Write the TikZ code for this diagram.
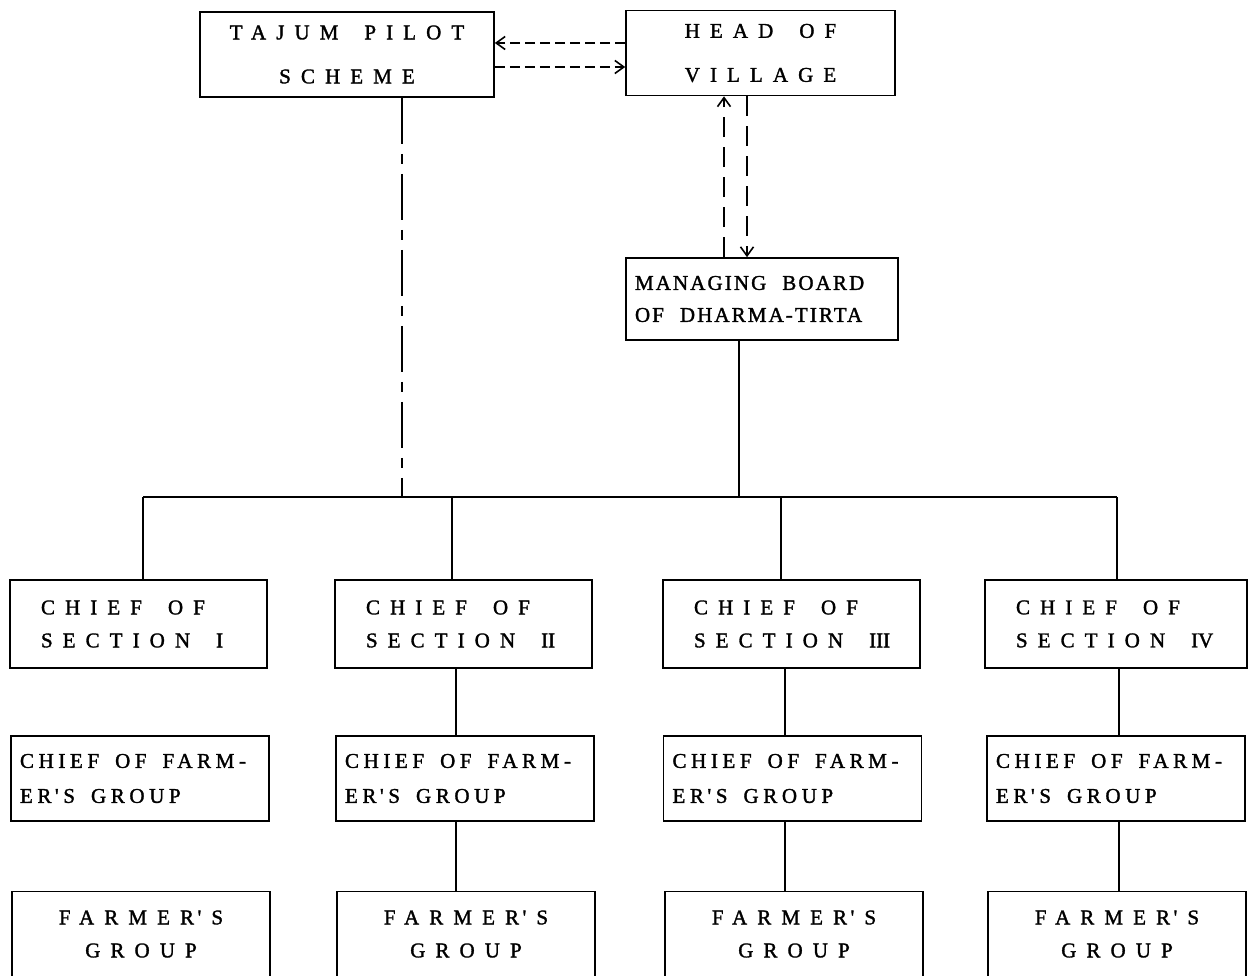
\documentclass[tikz,border=0pt]{standalone}
\usepackage{fontspec}
\setmainfont{Liberation Serif}
\newfontfamily\widefont[LetterSpace=48,FakeBold=1.5]{Liberation Serif}
\newfontfamily\tightfont[LetterSpace=22,FakeBold=1.5]{Liberation Serif}
\newfontfamily\boardfont[LetterSpace=10,FakeBold=1.5]{Liberation Serif}
\newfontfamily\plainfont[FakeBold=1.5]{Liberation Serif}
\usetikzlibrary{arrows.meta}
\newcommand\wg{\hspace{26pt}}
\newcommand\tg{\hspace{16pt}}
\begin{document}
\begin{tikzpicture}[x=1pt,y=-1pt,
  box/.style={draw, line width=1.6pt, minimum height=85pt, inner sep=0pt,
    font=\fontsize{21}{40}\selectfont},
  cbox/.style={box, align=center},
  lbox/.style={box, align=left, inner xsep=9pt, text width=#1},
  sbox/.style={box, align=left, inner xsep=31pt, text width=#1},
  link/.style={line width=1.6pt},
  dashlink/.style={line width=1.6pt, dash pattern=on 10pt off 5pt},
  vdashlink/.style={line width=1.6pt, dash pattern=on 20pt off 10pt},
  chainlink/.style={line width=1.7pt, dash pattern=on 46pt off 10pt on 10pt off 10pt},
  tip/.style={-{Straight Barb[length=9pt,width=13pt,line width=1.6pt]}}
]
\fill[white] (0,0) rectangle (1249,976);
\useasboundingbox (0,0) rectangle (1249,976);

% top level
\node[cbox, minimum width=294pt, font=\fontsize{21}{44}\selectfont\widefont] (tajum) at (347,54.5)
  {TAJUM\wg PILOT\\SCHEME};
\node[cbox, minimum width=269pt, font=\fontsize{21}{44}\selectfont\widefont] (head) at (760.5,53)
  {HEAD\wg OF\\VILLAGE};
\node[lbox=254pt, minimum width=272pt, minimum height=82pt, font=\fontsize{21}{32}\selectfont\boardfont] (board) at (762,299)
  {\mbox{MANAGING\tg BOARD}\\\mbox{OF\tg DHARMA-TIRTA}};

% sections
\foreach \n/\cx/\w/\num in {s1/138.5/257/I, s2/463.5/257/II, s3/791.5/257/III, s4/1116/262/IV}
  \node[sbox=\w pt - 62pt, minimum width=\w pt, minimum height=88pt,
        font=\fontsize{21}{33}\selectfont\widefont] (\n) at (\cx,624)
    {\mbox{CHIEF\wg OF}\\\mbox{SECTION\wg {\plainfont\num}}};

% chiefs of farmer's groups
\foreach \n/\cx in {f1/140, f2/465, f3/792.5, f4/1116}
  \node[lbox=240pt, minimum width=258pt, font=\fontsize{21}{35}\selectfont\tightfont] (\n) at (\cx,778.5)
    {\mbox{CHIEF\tg OF\tg FARM-}\\\mbox{ER\,'S\tg GROUP}};

% farmer's groups
\foreach \n/\cx in {g1/141, g2/466, g3/794, g4/1117}
  \node[cbox, minimum width=258pt, font=\fontsize{21}{33}\selectfont\widefont] (\n) at (\cx,934)
    {FARMER\,'S\\GROUP};

% bus line and drop points
\coordinate (b1) at (143,497);
\coordinate (b2) at (452,497);
\coordinate (b3) at (781,497);
\coordinate (b4) at (1117,497);
\coordinate (jt) at (402,497);
\coordinate (jb) at (739,497);
\draw[link] (b1) -- (b4);
\foreach \i in {1,2,3,4}
  \draw[link] (b\i) -- (b\i |- s\i.north);
\draw[chainlink] (jt |- tajum.south) -- (jt);
\draw[link] (jb |- board.south) -- (jb);

% section -> chief of farmer's group -> farmer's group
\coordinate (c2) at (456,0);
\coordinate (c3) at (785,0);
\coordinate (c4) at (1119,0);
\foreach \i in {2,3,4} {
  \draw[link] (c\i |- s\i.south) -- (c\i |- f\i.north);
  \draw[link] (c\i |- f\i.south) -- (c\i |- g\i.north);
}

% exchange between the pilot scheme and the head of village
\coordinate (ha) at (0,43);
\coordinate (hb) at (0,67);
\draw[dashlink, tip] (head.west |- ha) -- (tajum.east |- ha);
\draw[dashlink, tip] (tajum.east |- hb) -- (head.west |- hb);

% exchange between the head of village and the managing board
\coordinate (va) at (724,0);
\coordinate (vb) at (747,0);
\draw[vdashlink, tip] (va |- board.north) -- (va |- head.south);
\draw[vdashlink, tip] (vb |- head.south) -- (vb |- board.north);
\end{tikzpicture}
\end{document}
